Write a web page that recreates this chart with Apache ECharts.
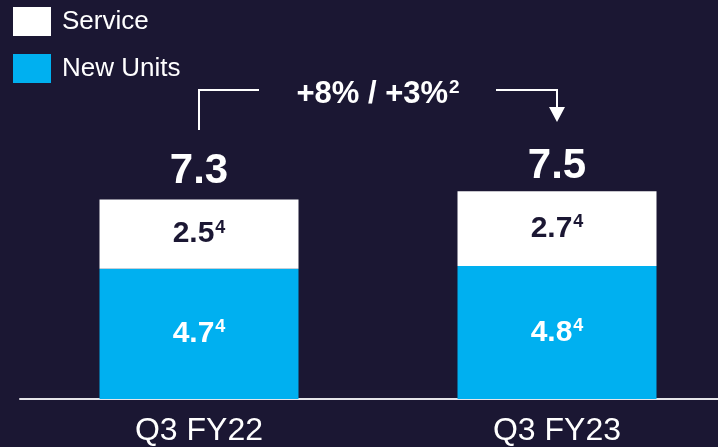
<!DOCTYPE html>
<html>
<head>
<meta charset="utf-8">
<script src="https://cdn.jsdelivr.net/npm/echarts@6/dist/echarts.min.js"></script>
<style>
html,body{margin:0;padding:0;background:#1b1733;}
#c{width:718px;height:447px;}
</style>
</head>
<body>
<div id="c"></div>
<script>
var categories = ['Q3 FY22', 'Q3 FY23'];
var newUnits = [4.7, 4.8];
var service = [2.5, 2.7];
var totals = [7.3, 7.5];
var footnote = '4';
var growthText = '+8% / +3%';
var growthNote = '2';

var BG = '#1b1733';
var CYAN = '#00b0f0';
var FONT = '"Liberation Sans", Arial, sans-serif';

var chart = echarts.init(document.getElementById('c'));

function segLabel(color) {
  return {
    show: true,
    position: 'inside',
    formatter: function (p) { return '{v|' + p.value.toFixed(1) + '}{s|' + footnote + '}'; },
    rich: {
      v: { fontSize: 30, fontWeight: 'bold', color: color, fontFamily: FONT, lineHeight: 32 },
      s: { fontSize: 18, fontWeight: 'bold', color: color, fontFamily: FONT, padding: [0, 0, 13, 1] }
    }
  };
}

chart.setOption({
  backgroundColor: BG,
  animation: false,
  legend: {
    data: ['Service', 'New Units'],
    orient: 'vertical',
    left: 13,
    top: 7,
    padding: 0,
    itemWidth: 38,
    itemHeight: 29,
    itemGap: 18,
    icon: 'rect',
    textStyle: { color: '#ffffff', fontSize: 26, fontFamily: FONT, padding: [3, 0, 0, 6] }
  },
  grid: { left: 20, top: 122, width: 716, bottom: 48, containLabel: false, outerBoundsMode: 'none' },
  xAxis: {
    type: 'category',
    data: categories,
    axisLine: { lineStyle: { color: '#e6e6ea', width: 2 } },
    axisTick: { show: false },
    axisLabel: { color: '#ffffff', fontSize: 32, fontFamily: FONT, margin: 16 }
  },
  yAxis: {
    type: 'value', min: 0, max: 10, show: false, splitLine: { show: false }
  },
  series: [
    {
      name: 'New Units', type: 'bar', stack: 'a', data: newUnits, barWidth: 199,
      itemStyle: { color: CYAN },
      label: segLabel('#ffffff')
    },
    {
      name: 'Service', type: 'bar', stack: 'a', data: service, barWidth: 199,
      itemStyle: { color: '#ffffff' },
      label: segLabel(BG)
    },
    {
      name: 'Total', type: 'scatter', data: totals, symbolSize: 0, silent: true,
      itemStyle: { opacity: 1 },
      label: {
        show: true, position: 'top', distance: 4,
        formatter: function (p) { return p.value.toFixed(1); },
        color: '#ffffff', fontSize: 42, fontWeight: 'bold', fontFamily: FONT, opacity: 1
      }
    }
  ]
});

var x0 = chart.convertToPixel({ xAxisIndex: 0 }, categories[0]);
var x1 = chart.convertToPixel({ xAxisIndex: 0 }, categories[1]);
var mid = (x0 + x1) / 2;
var yH = 90;
var lineStyle = { stroke: '#ffffff', lineWidth: 2, fill: null };

chart.setOption({
  graphic: [
    { type: 'polyline', shape: { points: [[x0, 130], [x0, yH], [x0 + 60, yH]] }, style: lineStyle },
    { type: 'polyline', shape: { points: [[x1 - 61, yH], [x1, yH], [x1, 108]] }, style: lineStyle },
    { type: 'polygon', shape: { points: [[x1 - 8, 107], [x1 + 8, 107], [x1, 122]] }, style: { fill: '#ffffff' } },
    {
      type: 'text', x: mid, y: 94,
      style: {
        text: '{v|' + growthText + '}{s|' + growthNote + '}',
        align: 'center', verticalAlign: 'middle',
        rich: {
          v: { fontSize: 31, fontWeight: 'bold', fill: '#ffffff', fontFamily: FONT, lineHeight: 34 },
          s: { fontSize: 19, fontWeight: 'bold', fill: '#ffffff', fontFamily: FONT, padding: [0, 0, 13, 1] }
        }
      }
    }
  ]
});
</script>
</body>
</html>
